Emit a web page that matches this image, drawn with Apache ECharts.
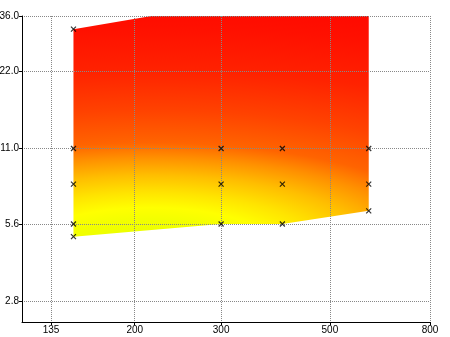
<!DOCTYPE html>
<html>
<head>
<meta charset="utf-8">
<script src="https://cdn.jsdelivr.net/npm/echarts@6/dist/echarts.min.js"></script>
<style>
  html, body { margin: 0; padding: 0; background: #fff; }
  #chart-panel { width: 450px; height: 337px; }
</style>
</head>
<body>
<div id="chart-panel"></div>
<script>
// tick values and labels (both axes are logarithmic)
var xTicks = [135, 200, 300, 500, 800];
var xTickLabels = ['135', '200', '300', '500', '800'];
var yTicks = [2.8, 5.6, 11.0, 22.0, 36.0];
var yTickLabels = ['2.8', '5.6', '11.0', '22.0', '36.0'];
var xRange = [117.8, 800];
var yRange = [2.33, 36];

// measured points (x marks)
var pointX = [150, 150, 150, 150, 150, 300, 300, 300, 400, 400, 400, 600, 600, 600];
var pointY = [32, 11, 8, 5.6, 5.0, 11, 8, 5.6, 11, 8, 5.6, 11, 8, 6.3];

// outline of the coloured surface (goes past the top of the plot)
var surfaceX = [150, 600, 600, 400, 300, 150];
var surfaceY = [32, 50, 6.3, 5.6, 5.6, 5.0];

var lg = function (v) { return Math.log10(v); };

function tickLabel(ticks, labels) {
    return function (v) {
        for (var i = 0; i < ticks.length; i++) {
            if (Math.abs(lg(ticks[i]) - v) < 1e-6) return labels[i];
        }
        return '';
    };
}

// colour of the surface: elliptical glow, yellow low-left to red top
var glowCenter = [215, 4.43];
var glowStretch = 3;
var glowStops = [
    { offset: 0, color: '#e4ff00' },
    { offset: 0.12, color: '#f2ff00' },
    { offset: 0.17, color: '#ffff00' },
    { offset: 0.23, color: '#ffe400' },
    { offset: 0.3, color: '#ffbe00' },
    { offset: 0.37, color: '#ff9000' },
    { offset: 0.43, color: '#ff6400' },
    { offset: 0.56, color: '#ff4200' },
    { offset: 0.72, color: '#ff2200' },
    { offset: 0.89, color: '#ff1000' },
    { offset: 1, color: '#ff0800' }
];

function renderSurface(params, api) {
    var pts = surfaceX.map(function (x, i) {
        return api.coord([lg(x), lg(surfaceY[i])]);
    });
    var c = api.coord([lg(glowCenter[0]), lg(glowCenter[1])]);
    return {
        type: 'group',
        x: c[0],
        scaleX: glowStretch,
        children: [{
            type: 'polygon',
            shape: {
                points: pts.map(function (p) { return [(p[0] - c[0]) / glowStretch, p[1]]; })
            },
            style: {
                fill: new echarts.graphic.RadialGradient(0, c[1], 250, glowStops, true)
            }
        }]
    };
}

var gridLine = { show: true, lineStyle: { color: '#888', type: [1, 1], width: 1 } };
var labelFont = { color: '#000', fontSize: 10, fontFamily: 'Liberation Sans Narrow, Liberation Sans' };

var option = {
    animation: false,
    grid: { left: 22, right: 20, top: 16, bottom: 15, outerBoundsMode: 'none', containLabel: false },
    xAxis: {
        type: 'value',
        z: 3,
        min: lg(xRange[0]),
        max: lg(xRange[1]),
        axisLine: { show: true, lineStyle: { color: '#000', width: 1 } },
        axisTick: { show: true, length: 3, lineStyle: { color: '#000' }, customValues: xTicks.map(lg) },
        axisLabel: Object.assign({ margin: 3, customValues: xTicks.map(lg), formatter: tickLabel(xTicks, xTickLabels) }, labelFont),
        splitLine: gridLine
    },
    yAxis: {
        type: 'value',
        z: 3,
        min: lg(yRange[0]),
        max: lg(yRange[1]),
        axisLine: { show: true, lineStyle: { color: '#000', width: 1 } },
        axisTick: { show: true, length: 3, lineStyle: { color: '#000' }, customValues: yTicks.map(lg) },
        axisLabel: Object.assign({ margin: 3, customValues: yTicks.map(lg), formatter: tickLabel(yTicks, yTickLabels) }, labelFont),
        splitLine: gridLine
    },
    series: [{
        type: 'custom',
        z: 1,
        clip: true,
        silent: true,
        renderItem: renderSurface,
        data: [0]
    }, {
        type: 'scatter',
        z: 5,
        symbol: 'path://M0,0L10,10M10,0L0,10',
        symbolSize: 5,
        itemStyle: { color: 'transparent', borderColor: '#000', borderWidth: 1.2 },
        data: pointX.map(function (x, i) { return [lg(x), lg(pointY[i])]; })
    }]
};

var myChart = echarts.init(document.getElementById('chart-panel'));
myChart.setOption(option);
</script>
</body>
</html>
